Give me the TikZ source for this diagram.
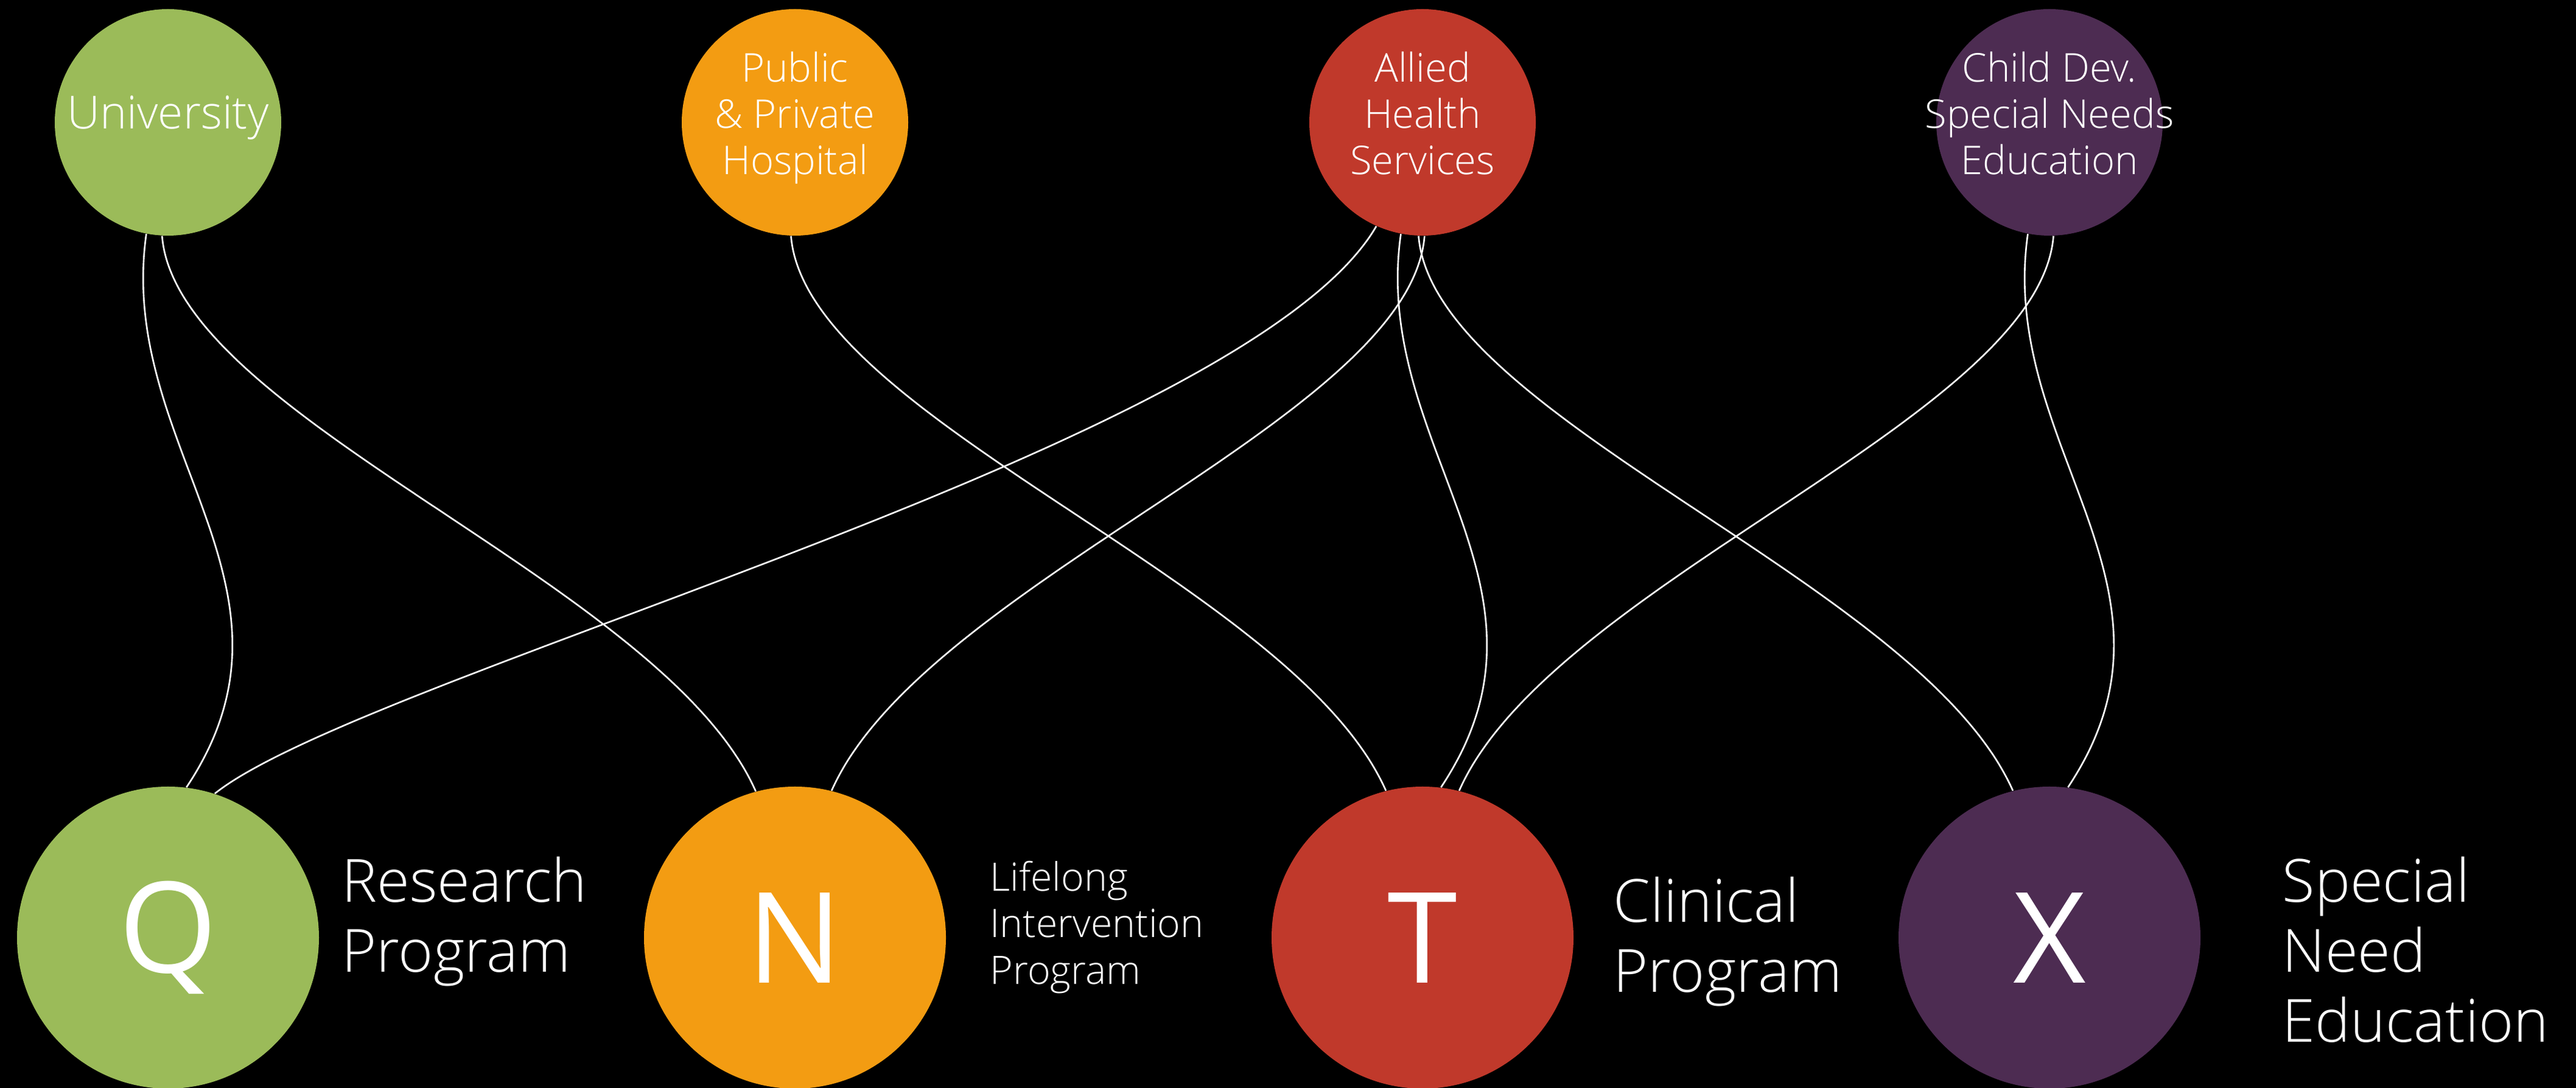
\documentclass[tikz,border=0pt]{standalone}
\usepackage{fontspec}
\IfFontExistsTF{Open Sans Light}{\setmainfont{Open Sans Light}}{\setmainfont{Open Sans}}
\newfontfamily\letterfont{Open Sans}
\usetikzlibrary{calc}
\definecolor{uniGreen}{HTML}{9BBB59}
\definecolor{hospOrange}{HTML}{F39C12}
\definecolor{alliedRed}{HTML}{C0392B}
\definecolor{childPurple}{HTML}{4D2C52}

\begin{document}
\begin{tikzpicture}[
	source/.style={circle, minimum size=3.72cm, inner sep=0pt},
	partner/.style={text=white, align=center, yshift=0.06cm, font=\fontsize{18.5}{21.6}\selectfont},
	program/.style={circle, minimum size=4.96cm, inner sep=0pt, text=white, font=\letterfont\fontsize{59}{59}\selectfont},
	lbl/.style={anchor=west, inner sep=0pt, text=white, align=left, font=\fontsize{27.8}{32.7}\selectfont},
	link/.style={white, line width=0.75pt}]
	   \fill[black] (0,0) rectangle (42.32,17.87);
	   \useasboundingbox (0,0) rectangle (42.32,17.87);
	   % partners
	   \node[source, fill=uniGreen, label={[partner, font=\fontsize{21.3}{24}\selectfont]center:{\strut University}}] (univ) at (2.76,15.86) {};
	   \node[source, fill=hospOrange, label={[partner]center:{\strut Public\\\& Private\\Hospital\strut}}] (hosp) at (13.06,15.86) {};
	   \node[source, fill=alliedRed, label={[partner]center:{\strut Allied\\Health\\Services\strut}}] (allied) at (23.37,15.86) {};
	   \node[source, fill=childPurple, label={[partner]center:{\strut Child Dev.\\Special Needs\\Education\strut}}] (child) at (33.67,15.86) {};
	   % programs
	   \node[program, fill=uniGreen] (research) at (2.76,2.47) {Q};
	   \node[program, fill=hospOrange] (lifelong) at (13.06,2.47) {N};
	   \node[program, fill=alliedRed] (clinical) at (23.37,2.47) {T};
	   \node[program, fill=childPurple] (special) at (33.67,2.47) {X};
	   \node[lbl] (researchlbl) at (5.61,2.73) {Research\\Program};
	   \node[lbl, font=\fontsize{18.3}{21.8}\selectfont] (lifelonglbl) at (16.26,2.64) {Lifelong\\Intervention\\Program};
	   \node[lbl] (clinicallbl) at (26.50,2.40) {Clinical\\Program};
	   \node[lbl] (speciallbl) at (37.49,2.27) {Special\\Need\\Education};
	   % links
	   \draw[link] (univ.259) .. controls ($(univ.259)+(-0.5,-3.5)$) and ($(research.83)+(2.2,3.3)$) .. (research.83);
	   \draw[link] (univ.267) .. controls ($(univ.267)+(0.24,-3)$) and ($(lifelong.105)+(-1.52,3.43)$) .. (lifelong.105);
	   \draw[link] (hosp.268) .. controls ($(hosp.268)+(0.24,-3)$) and ($(clinical.104)+(-1.52,3.43)$) .. (clinical.104);
	   \draw[link] (allied.246) .. controls ($(allied.246)+(-2.12,-3.65)$) and ($(research.72)+(2.46,1.96)$) .. (research.72);
	   \draw[link] (allied.271) .. controls ($(allied.271)+(-0.24,-3)$) and ($(lifelong.76)+(1.52,3.43)$) .. (lifelong.76);
	   \draw[link] (allied.259) .. controls ($(allied.259)+(-0.5,-3.5)$) and ($(clinical.83)+(2.2,3.3)$) .. (clinical.83);
	   \draw[link] (allied.268) .. controls ($(allied.268)+(0.24,-3)$) and ($(special.104)+(-1.52,3.43)$) .. (special.104);
	   \draw[link] (child.272) .. controls ($(child.272)+(-0.24,-3)$) and ($(clinical.76)+(1.52,3.43)$) .. (clinical.76);
	   \draw[link] (child.259) .. controls ($(child.259)+(-0.5,-3.5)$) and ($(special.83)+(2.2,3.3)$) .. (special.83);
\end{tikzpicture}
\end{document}
